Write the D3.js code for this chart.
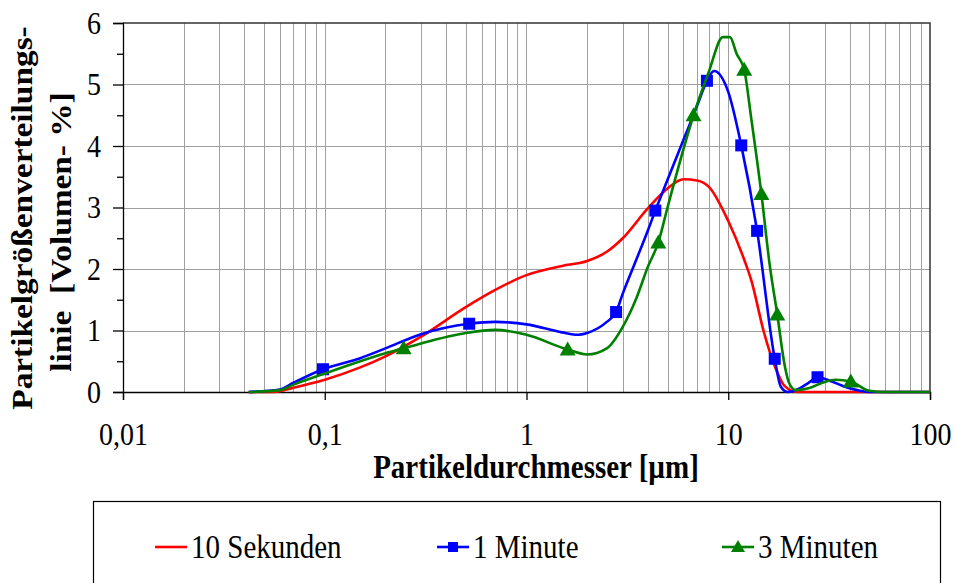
<!DOCTYPE html>
<html>
<head>
<meta charset="utf-8">
<script src="https://cdn.jsdelivr.net/npm/d3@7"></script>
<style>
  body { margin: 0; background: #fff; }
  svg { display: block; }
  text { font-family: 'Liberation Serif', 'Times New Roman', serif; fill: #000; }
</style>
</head>
<body>
<div id="viz"></div>
<script>
// particle size [µm] and volume [%]
const sizes10s = [0.042, 0.056, 0.07, 0.1, 0.15, 0.2, 0.3, 0.5, 0.7, 1, 1.5, 2, 2.5, 3, 4, 5, 6, 7, 8, 10, 12, 13, 15, 17, 19, 22, 100];
const vol10s = [0, 0, 0.07, 0.2, 0.4, 0.58, 0.9, 1.38, 1.66, 1.9, 2.05, 2.13, 2.28, 2.5, 2.99, 3.31, 3.46, 3.44, 3.34, 2.78, 2.15, 1.82, 0.98, 0.42, 0.1, 0, 0];

const sizes1min = [0.042, 0.06, 0.07, 0.098, 0.15, 0.2, 0.3, 0.52, 0.7, 1, 1.5, 1.8, 2, 2.5, 2.78, 3, 3.5, 4, 4.35, 5, 6, 7, 7.84, 8.5, 10, 11.6, 13.9, 17, 18.2, 19.7, 22, 25, 27.7, 32, 40, 50, 100];
const vol1min = [0, 0.04, 0.15, 0.37, 0.55, 0.71, 0.94, 1.11, 1.14, 1.1, 0.97, 0.93, 0.96, 1.14, 1.3, 1.6, 2.15, 2.63, 2.95, 3.45, 4.1, 4.65, 5.06, 5.22, 4.88, 4.01, 2.62, 0.54, 0.09, 0, 0.04, 0.15, 0.24, 0.18, 0.06, 0, 0];

const sizes3min = [0.042, 0.06, 0.07, 0.1, 0.15, 0.2, 0.246, 0.3, 0.5, 0.7, 1, 1.6, 2, 2.5, 3, 3.5, 4, 4.5, 5, 6.73, 8, 9.4, 10.2, 11, 12, 13, 14.6, 16, 17.5, 19.1, 20, 21.6, 25, 29.3, 34, 40.5, 50, 60, 100];
const vol3min = [0, 0.03, 0.12, 0.3, 0.5, 0.63, 0.71, 0.79, 0.96, 1.01, 0.93, 0.69, 0.61, 0.71, 1.06, 1.52, 2.04, 2.43, 3.0, 4.5, 5.2, 5.77, 5.77, 5.5, 5.24, 4.45, 3.22, 2.1, 1.26, 0.41, 0.15, 0.03, 0.06, 0.15, 0.2, 0.17, 0.02, 0, 0];

// marker positions
const markSizes1min = [0.098, 0.52, 2.78, 4.35, 7.84, 11.6, 13.9, 17, 27.7];
const markVol1min = [0.37, 1.11, 1.3, 2.95, 5.06, 4.01, 2.62, 0.54, 0.24];
const markSizes3min = [0.246, 1.6, 4.5, 6.73, 12, 14.6, 17.5, 40.5];
const markVol3min = [0.71, 0.69, 2.43, 4.5, 5.24, 3.22, 1.26, 0.17];

const xTicks = [0.01, 0.1, 1, 10, 100];
const xTickLabels = ['0,01', '0,1', '1', '10', '100'];
const yTicks = [0, 1, 2, 3, 4, 5, 6];
const yMinor = [0.5, 1.5, 2.5, 3.5, 4.5, 5.5];
const seriesNames = ['10 Sekunden', '1 Minute', '3 Minuten'];

const w = 955;
const h = 583;
const pLeft = 123, pRight = 930, pTop = 23, pBottom = 392;
const stretch = 1.15;

var svg = d3.select('#viz').
append('svg').
attr('width', w).
attr('height', h);

const x = d3.scaleLog().
domain([0.01, 100]).
range([pLeft, pRight]);

const y = d3.scaleLinear().
domain([0, 6]).
range([pBottom, pTop]);

//grid
svg.append('g').
selectAll('line').
data(x.ticks().filter(d => d > 0.01 && d < 100)).
enter().
append('line').
attr('x1', d => Math.round(x(d)) + 0.5).
attr('x2', d => Math.round(x(d)) + 0.5).
attr('y1', pTop).
attr('y2', pBottom).
style('stroke', '#a0a0a0').
style('stroke-width', 1);

svg.append('g').
selectAll('line').
data(yTicks.filter(d => d > 0 && d < 6)).
enter().
append('line').
attr('x1', pLeft).
attr('x2', pRight).
attr('y1', d => Math.round(y(d)) + 0.5).
attr('y2', d => Math.round(y(d)) + 0.5).
style('stroke', '#a0a0a0').
style('stroke-width', 1);

// frame top / right
svg.append('path').
attr('d', 'M' + pLeft + ',' + pTop + 'H' + pRight + 'V' + pBottom).
style('fill', 'none').
style('stroke', '#333').
style('stroke-width', 1.5);

//axes
const yAxis = d3.axisLeft(y).
tickValues(yTicks).
tickSize(10).
tickPadding(0).
tickFormat(d3.format('d'));

const yAxisMinor = d3.axisLeft(y).
tickValues(yMinor).
tickSize(6).
tickFormat('');

const xAxis = d3.axisBottom(x).
tickValues(xTicks).
tickSize(8).
tickFormat((d, i) => xTickLabels[i]);

svg.append('g').
attr('transform', 'translate(' + pLeft + ',0)').
call(yAxisMinor).
call(g => g.select('.domain').remove());

let gy = svg.append('g').
attr('transform', 'translate(' + pLeft + ',0)').
call(yAxis);

gy.selectAll('text').
attr('x', null).
attr('dy', null).
attr('transform', 'translate(-22,10) scale(1,' + stretch + ')').
style('font-size', '28px').
style('font-family', 'Liberation Serif');

let gx = svg.append('g').
attr('transform', 'translate(0,' + pBottom + ')').
call(xAxis);

gx.selectAll('text').
attr('y', null).
attr('dy', null).
attr('transform', 'translate(0,53) scale(1,' + stretch + ')').
style('font-size', '28px').
style('font-family', 'Liberation Serif');

svg.selectAll('.domain, .tick line').
style('stroke', '#000').
style('stroke-width', 1.3);

//titles
svg.append('text').
text('Partikeldurchmesser [µm]').
attr('text-anchor', 'middle').
attr('transform', 'translate(536,478) scale(1,' + stretch + ')').
style('font-size', '29px').
style('font-weight', 'bold');

svg.append('text').
text('Partikelgrößenverteilungs-').
attr('text-anchor', 'middle').
attr('transform', 'translate(32,218) scale(1,' + stretch + ') rotate(-90)').
style('font-size', '29px').
style('font-weight', 'bold');

svg.append('text').
text('linie  [Volumen- %]').
attr('xml:space', 'preserve').
attr('text-anchor', 'middle').
attr('transform', 'translate(71,232) scale(1,' + stretch + ') rotate(-90)').
style('font-size', '29px').
style('font-weight', 'bold').
style('white-space', 'pre');

//lines
const line = d3.line().
x(d => x(d[0])).
y(d => y(d[1])).
curve(d3.curveMonotoneX);

function drawSeries(sizes, vols, color) {
  svg.append('path').
  datum(sizes.map((s, i) => [s, vols[i]])).
  attr('d', line).
  style('fill', 'none').
  style('stroke', color).
  style('stroke-width', 2.6).
  style('stroke-linejoin', 'round');
}

drawSeries(sizes10s, vol10s, '#ff0000');
drawSeries(sizes1min, vol1min, '#0000ff');

svg.append('g').
selectAll('rect').
data(markSizes1min.map((s, i) => [s, markVol1min[i]])).
enter().
append('rect').
attr('x', d => x(d[0]) - 6).
attr('y', d => y(d[1]) - 6).
attr('width', 12).
attr('height', 12).
style('fill', '#0000ff');

drawSeries(sizes3min, vol3min, '#008000');

svg.append('g').
selectAll('path').
data(markSizes3min.map((s, i) => [s, markVol3min[i]])).
enter().
append('path').
attr('d', 'M-8,6L0,-8L8,6Z').
attr('transform', d => 'translate(' + x(d[0]) + ',' + y(d[1]) + ')').
style('fill', '#008000');

//legend
svg.append('rect').
attr('x', 93.5).
attr('y', 501.5).
attr('width', 847).
attr('height', 120).
style('fill', '#fff').
style('stroke', '#000').
style('stroke-width', 1.2);

const legendX = [155, 437, 722];
const legendColors = ['#ff0000', '#0000ff', '#008000'];
const ly = 547;

seriesNames.forEach(function (name, i) {
  let g = svg.append('g');
  g.append('line').
  attr('x1', legendX[i]).
  attr('x2', legendX[i] + 32).
  attr('y1', ly).
  attr('y2', ly).
  style('stroke', legendColors[i]).
  style('stroke-width', 2.6);
  if (i == 1) {
    g.append('rect').
    attr('x', legendX[i] + 11).
    attr('y', ly - 5).
    attr('width', 10).
    attr('height', 10).
    style('fill', legendColors[i]);
  }
  if (i == 2) {
    g.append('path').
    attr('d', 'M-7,5L0,-7L7,5Z').
    attr('transform', 'translate(' + (legendX[i] + 16) + ',' + ly + ')').
    style('fill', legendColors[i]);
  }
  g.append('text').
  text(name).
  attr('transform', 'translate(' + (legendX[i] + 36) + ',' + (ly + 11) + ') scale(1,' + stretch + ')').
  style('font-size', '29px');
});
</script>
</body>
</html>
